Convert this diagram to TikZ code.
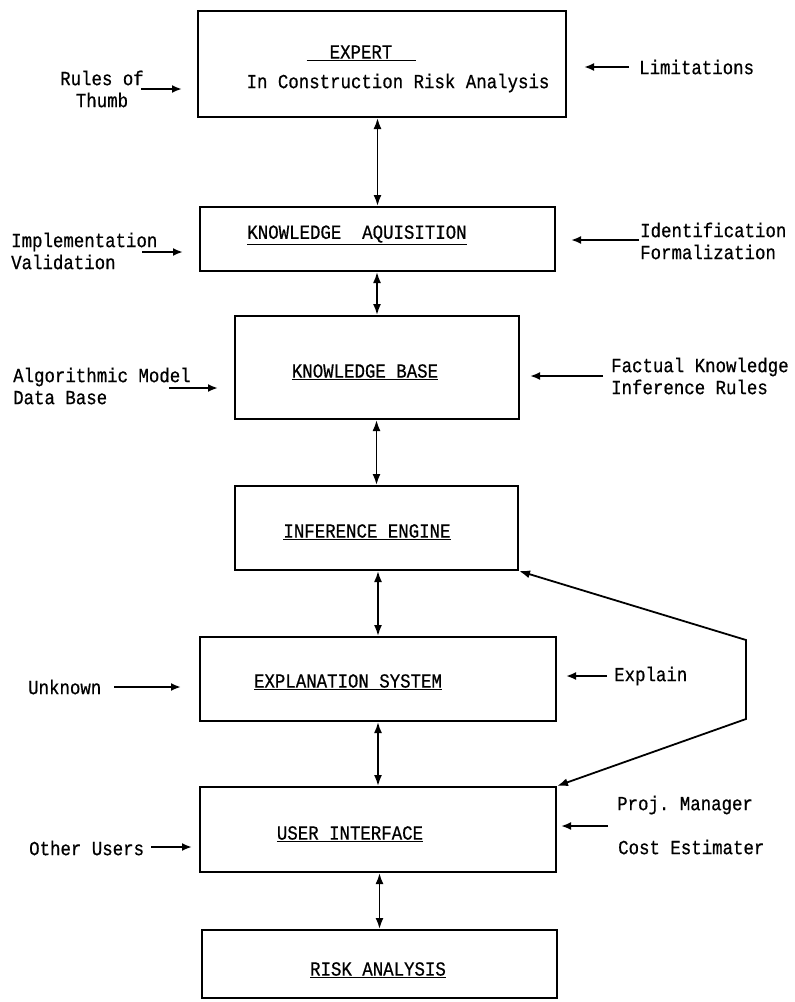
\documentclass[tikz,border=0pt]{standalone}
\usepackage{fontspec}
\setmonofont[FakeStretch=0.87,FakeBold=0.6]{Liberation Mono}
\usetikzlibrary{arrows.meta}
\begin{document}
\begin{tikzpicture}[x=1pt,y=-1pt,
  box/.style={draw,line width=2pt,minimum width=#1,inner sep=0pt},
  txt/.style={font=\ttfamily\fontsize{20}{22}\selectfont,inner sep=0pt},
  lt/.style={txt,anchor=west,align=left},
  link/.style={line width=1.8pt,{Latex[length=11pt,width=8pt]}-{Latex[length=11pt,width=8pt]}},
  inarr/.style={line width=2pt,-{Latex[length=10pt,width=8pt]}}]
\useasboundingbox (0,0) rectangle (795,1002);
% boxes
\node[box=368pt,minimum height=106pt] (expert) at (382,64) {};
\node[box=355pt,minimum height=64pt] (ka) at (377.5,239) {};
\node[box=284pt,minimum height=103pt] (kb) at (377,367.5) {};
\node[box=283pt,minimum height=84pt] (ie) at (376.5,528) {};
\node[box=356pt,minimum height=84pt] (es) at (378,679) {};
\node[box=356pt,minimum height=85pt] (ui) at (378,829.5) {};
\node[box=355pt,minimum height=68pt] (ra) at (379.5,964) {};
% titles
\node[txt] (t1) at (361,53) {\underline{\makebox[109pt]{EXPERT}}};
\node[txt] (t1b) at (398,83) {In Construction Risk Analysis};
\node[txt] (t2) at (357,235) {\underline{KNOWLEDGE\ \ AQUISITION}};
\node[txt] (t3) at (365,372) {\underline{KNOWLEDGE BASE}};
\node[txt] (t4) at (367,532) {\underline{INFERENCE ENGINE}};
\node[txt] (t5) at (348,682) {\underline{EXPLANATION SYSTEM}};
\node[txt] (t6) at (350,834) {\underline{USER INTERFACE}};
\node[txt] (t7) at (378,970) {\underline{RISK ANALYSIS}};
% vertical links
\draw[link] (ka.north |- expert.south) -- (ka.north);
\draw[link] (kb.north |- ka.south) -- (kb.north);
\draw[link] (ie.north |- kb.south) -- (ie.north);
\draw[link] (es.north |- ie.south) -- (es.north);
\draw[link] (ui.north |- es.south) -- (ui.north);
\draw[link] (ra.north |- ui.south) -- (ra.north);
% feedback loop
\coordinate (f1) at (746,640);
\coordinate (f2) at (746,719);
\draw[link] (ie.south east) -- (f1) -- (f2) -- (ui.north east);
% side labels
\node[txt,align=center] (rules) at (102,89) {Rules of\\Thumb};
\coordinate (a1s) at (141,89); \coordinate (a1e) at (182,89);
\draw[inarr] (a1s) -- (a1e);
\node[lt] (lim) at (639,67) {Limitations};
\coordinate (a2s) at (629,67); \coordinate (a2e) at (584,67);
\draw[inarr] (a2s) -- (a2e);
\node[lt] (impl) at (11,251) {Implementation\\Validation};
\coordinate (a3s) at (142,252); \coordinate (a3e) at (183,252);
\draw[inarr] (a3s) -- (a3e);
\node[lt] (ident) at (640,241) {Identification\\Formalization};
\coordinate (a4s) at (639,240); \coordinate (a4e) at (571,240);
\draw[inarr] (a4s) -- (a4e);
\node[lt] (algo) at (13,386) {Algorithmic Model\\Data Base};
\coordinate (a5s) at (169,388); \coordinate (a5e) at (218,388);
\draw[inarr] (a5s) -- (a5e);
\node[lt] (fact) at (611,376) {Factual Knowledge\\Inference Rules};
\coordinate (a6s) at (603,376); \coordinate (a6e) at (530,376);
\draw[inarr] (a6s) -- (a6e);
\node[lt] (unk) at (28,687) {Unknown};
\coordinate (a7s) at (114,687); \coordinate (a7e) at (181,687);
\draw[inarr] (a7s) -- (a7e);
\node[lt] (expl) at (614,676) {Explain};
\coordinate (a8s) at (607,676); \coordinate (a8e) at (566,676);
\draw[inarr] (a8s) -- (a8e);
\node[lt] (other) at (29,848) {Other Users};
\coordinate (a9s) at (151,847); \coordinate (a9e) at (192,847);
\draw[inarr] (a9s) -- (a9e);
\node[lt] (pm) at (617,805) {Proj. Manager};
\node[lt] (ce) at (618,847) {Cost Estimater};
\coordinate (a10s) at (608,826); \coordinate (a10e) at (561,826);
\draw[inarr] (a10s) -- (a10e);
\end{tikzpicture}
\end{document}
